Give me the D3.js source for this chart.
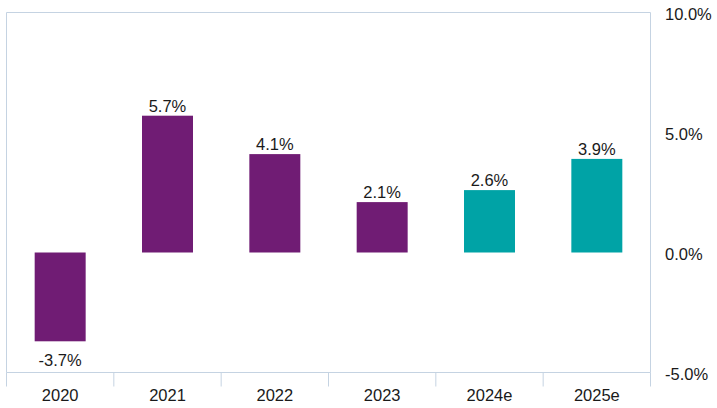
<!DOCTYPE html>
<html>
<head>
<meta charset="utf-8">
<script src="https://cdn.jsdelivr.net/npm/d3@7"></script>
<style>
  body { margin: 0; background: #fff; }
  svg text { font-family: "Liberation Sans", Arial, sans-serif; fill: #1a1a1a; }
</style>
</head>
<body>
<div id="chart"></div>
<script>
// chart data
const years = ["2020", "2021", "2022", "2023", "2024e", "2025e"];
const growth = [-3.7, 5.7, 4.1, 2.1, 2.6, 3.9];
const estimate = [false, false, false, false, true, true];
const yTicks = [10, 5, 0, -5];

const width = 717;
const height = 408;
const plotLeft = 6.5, plotRight = 650.5, plotTop = 12.5, plotBottom = 372.5;
const frameColor = "#c5d3e2";
const fontSize = "16.5px";

const svg = d3.select("#chart")
  .append("svg")
    .attr("width", width)
    .attr("height", height);

const x = d3.scaleBand()
  .domain(years)
  .range([plotLeft, plotRight])
  .paddingInner(0.525)
  .paddingOuter(0.2625);

const y = d3.scaleLinear()
  .domain([-5, 10])
  .range([plotBottom, plotTop]);

// frame: left, top, right
svg.append("path")
  .attr("d", `M${plotLeft},${plotBottom}V${plotTop}H${plotRight}V${plotBottom}`)
  .attr("fill", "none")
  .attr("stroke", frameColor);

// bars
svg.selectAll("rect.bar")
  .data(growth)
  .join("rect")
    .attr("class", "bar")
    .attr("x", (d, i) => x(years[i]))
    .attr("width", x.bandwidth())
    .attr("y", d => y(Math.max(0, d)))
    .attr("height", d => Math.abs(y(d) - y(0)))
    .attr("fill", (d, i) => estimate[i] ? "#00a3a6" : "#701c74");

// value labels
svg.selectAll("text.val")
  .data(growth)
  .join("text")
    .attr("class", "val")
    .attr("x", (d, i) => x(years[i]) + x.bandwidth() / 2)
    .attr("y", d => d >= 0 ? y(d) - 4 : y(d) + 25)
    .attr("text-anchor", "middle")
    .style("font-size", fontSize)
    .text(d => d.toFixed(1) + "%");

// bottom axis line + category ticks
const boundaries = d3.range(years.length + 1).map(i => plotLeft + i * (plotRight - plotLeft) / years.length);
svg.append("line")
  .attr("x1", plotLeft).attr("x2", plotRight)
  .attr("y1", plotBottom).attr("y2", plotBottom)
  .attr("stroke", frameColor);
svg.selectAll("line.tick")
  .data(boundaries)
  .join("line")
    .attr("class", "tick")
    .attr("x1", d => d).attr("x2", d => d)
    .attr("y1", plotBottom).attr("y2", plotBottom + 14)
    .attr("stroke", frameColor);

svg.selectAll("text.cat")
  .data(years)
  .join("text")
    .attr("class", "cat")
    .attr("x", d => x(d) + x.bandwidth() / 2)
    .attr("y", plotBottom + 28.5)
    .attr("text-anchor", "middle")
    .style("font-size", fontSize)
    .text(d => d);

// right axis labels
svg.selectAll("text.ytick")
  .data(yTicks)
  .join("text")
    .attr("class", "ytick")
    .attr("x", 665)
    .attr("y", d => y(d) + 7.5)
    .style("font-size", fontSize)
    .text(d => d.toFixed(1) + "%");
</script>
</body>
</html>
